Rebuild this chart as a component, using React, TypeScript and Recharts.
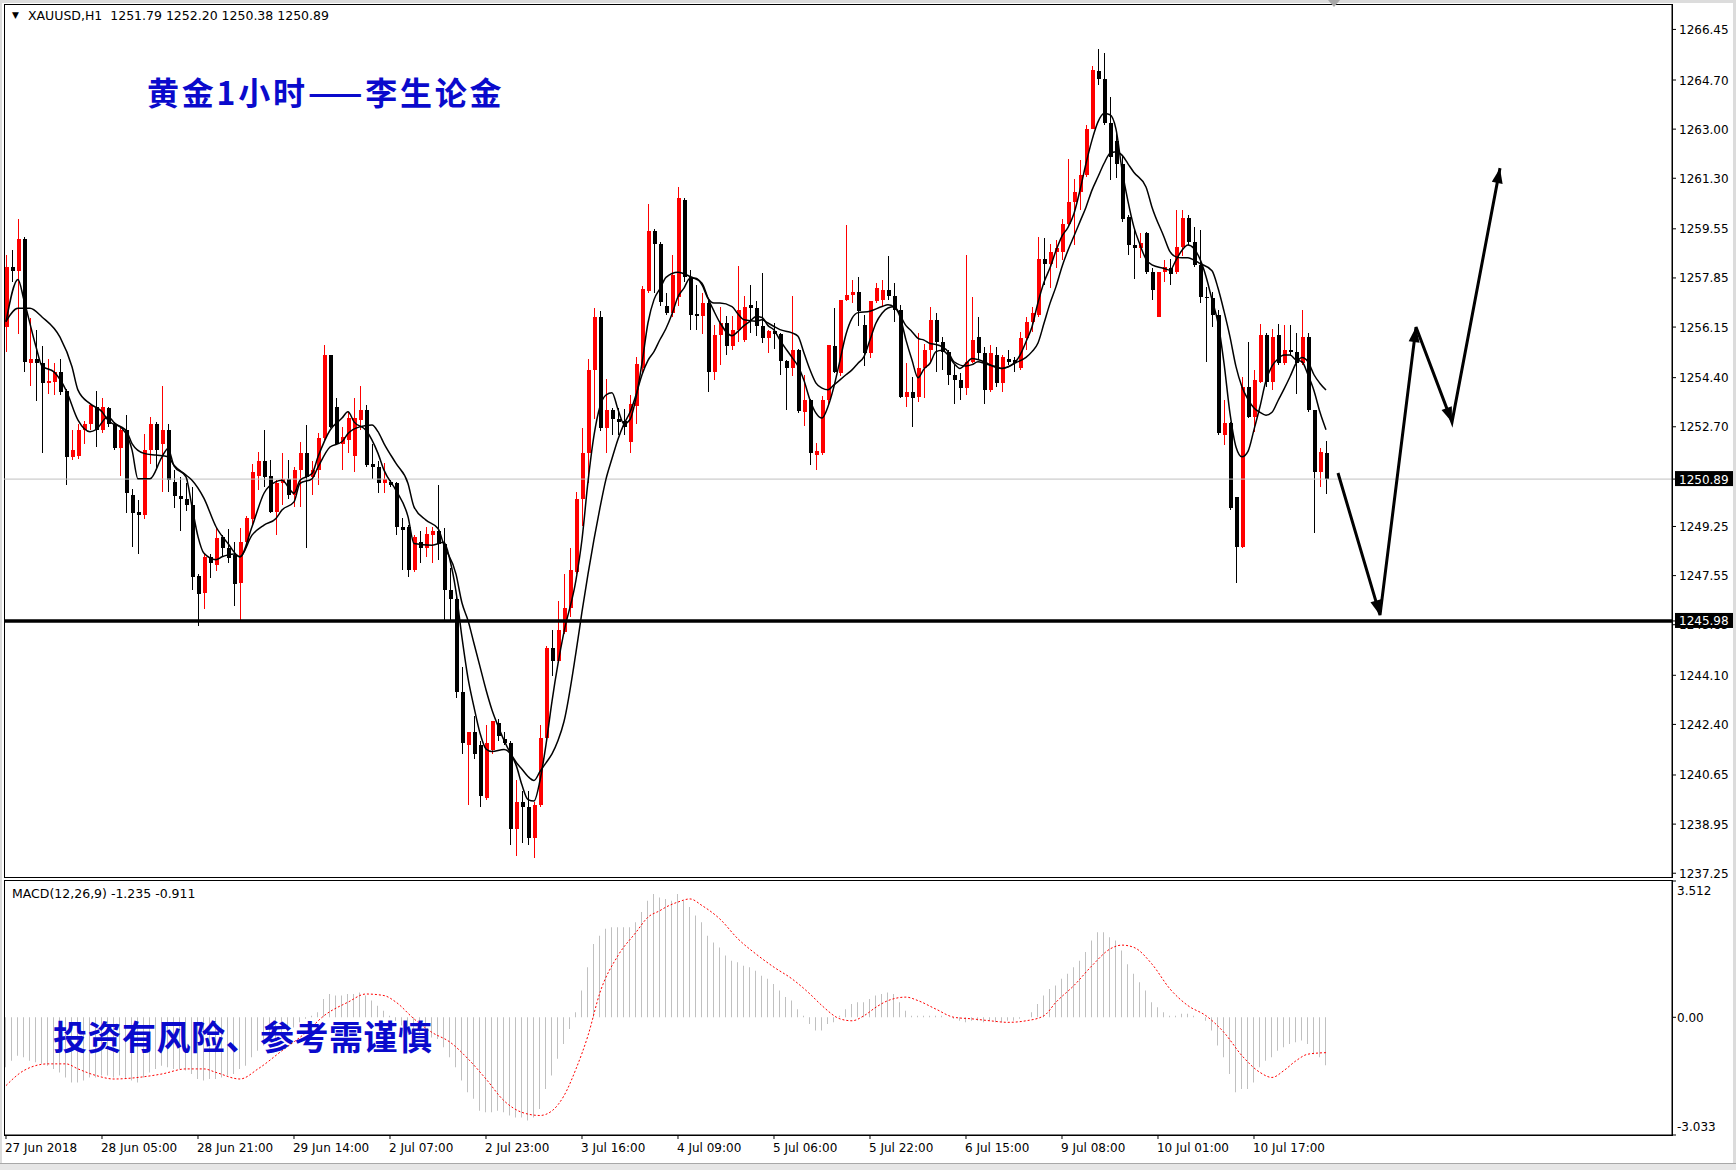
import React from "react";
import { ComposedChart, Bar, Line, XAxis, YAxis, ReferenceLine } from "recharts";

if (typeof document !== "undefined") document.body.style.margin = "0";

const FONT = '"DejaVu Sans", Verdana, sans-serif';
const CJK = '"Noto Sans CJK SC", "Noto Sans", sans-serif';

// XAUUSD H1 candles, bar 0 = 27 Jun 13:00
const opens = [
  1256.16, 1258.24, 1258.1, 1259.2, 1254.9, 1255.05, 1254.9, 1254.2, 1254.25, 1254.6,
  1253.95, 1251.65, 1251.7, 1252.6, 1252.8, 1253.4, 1252.6, 1253.35, 1252.8, 1251.95,
  1252.6, 1250.35, 1249.75, 1249.65, 1251.9, 1252.8, 1252.1, 1252.6, 1250.8, 1250.3,
  1250.2, 1250.0, 1247.55, 1246.95, 1248.2, 1247.9, 1248.9, 1248.5, 1248.25, 1247.3,
  1248.7, 1249.5, 1251.0, 1251.5, 1251.0, 1249.76, 1250.74, 1250.9, 1250.34, 1251.2,
  1251.78, 1250.97, 1251.2, 1252.3, 1255.18, 1253.4, 1252.12, 1252.24, 1251.7, 1252.93,
  1253.28, 1251.4, 1251.3, 1250.74, 1250.8, 1250.74, 1249.24, 1249.24, 1247.74, 1248.7,
  1248.5, 1248.95, 1249.1, 1248.66, 1247.05, 1246.75, 1243.53, 1241.7, 1242.15, 1241.7,
  1239.85, 1241.53, 1242.45, 1241.9, 1241.76, 1238.77, 1239.7, 1239.54, 1238.47, 1239.62,
  1241.92, 1245.06, 1244.6, 1245.6, 1246.44, 1247.67, 1250.2, 1251.8, 1254.65, 1256.49,
  1252.65, 1253.27, 1252.96, 1252.9, 1252.19, 1253.42, 1254.72, 1257.4, 1259.48, 1259.02,
  1256.87, 1256.64, 1257.18, 1260.56, 1257.9, 1256.6, 1256.52, 1256.98, 1254.6, 1255.88,
  1256.29, 1255.5, 1256.06, 1255.7, 1256.92, 1256.8, 1256.17, 1255.77, 1256.0, 1255.9,
  1254.96, 1254.73, 1255.37, 1253.2, 1253.63, 1251.73, 1251.79, 1253.63, 1255.5, 1254.56,
  1257.1, 1257.27, 1257.38, 1256.23, 1255.25, 1257.04, 1257.1, 1257.44, 1257.21, 1256.74,
  1253.74, 1253.9, 1253.74, 1254.72, 1255.35, 1256.39, 1255.64, 1255.29, 1254.49, 1254.32,
  1254.03, 1254.95, 1255.8, 1255.24, 1253.97, 1255.18, 1254.2, 1255.06, 1255.0, 1254.72,
  1255.76, 1256.33, 1256.56, 1258.52, 1258.35, 1258.75, 1258.75, 1259.73, 1260.48, 1260.83,
  1261.4, 1263.0, 1265.0, 1264.75, 1263.2, 1262.6, 1261.8, 1259.97, 1259.0, 1258.9,
  1259.39, 1258.06, 1256.5, 1258.06, 1258.2, 1258.06, 1258.93, 1259.91, 1259.1, 1258.3,
  1257.2, 1257.14, 1256.56, 1252.41, 1252.82, 1250.28, 1248.55, 1254.08, 1253.05, 1254.26,
  1255.87, 1254.26, 1255.87, 1254.89, 1255.35, 1255.3, 1254.89, 1255.81, 1253.28, 1251.14,
  1251.79,
];
const highs = [
  1258.64, 1258.8, 1259.9, 1259.25, 1256.45, 1256.05, 1255.5, 1255.05, 1254.9, 1255.05,
  1254.0, 1252.6, 1252.8, 1252.9, 1253.5, 1253.95, 1253.7, 1253.4, 1252.85, 1252.65,
  1253.1, 1250.55, 1250.15, 1252.45, 1253.05, 1252.85, 1254.1, 1252.8, 1251.2, 1250.95,
  1250.75, 1250.6, 1247.6, 1248.3, 1248.3, 1249.2, 1248.95, 1249.15, 1248.7, 1249.2,
  1249.6, 1251.4, 1251.84, 1252.6, 1251.55, 1250.86, 1251.8, 1251.55, 1251.3, 1252.18,
  1252.76, 1251.5, 1252.47, 1255.53, 1255.2, 1253.68, 1252.7, 1253.2, 1253.68, 1254.1,
  1253.45, 1252.12, 1251.5, 1251.43, 1250.85, 1250.8, 1249.53, 1249.3, 1248.95, 1249.1,
  1249.24, 1249.24, 1250.68, 1249.18, 1247.8, 1246.9, 1244.37, 1242.15, 1242.7, 1241.84,
  1242.38, 1242.53, 1242.6, 1242.15, 1241.84, 1240.46, 1240.08, 1240.08, 1239.7, 1242.38,
  1245.1, 1245.67, 1246.67, 1247.6, 1248.5, 1250.43, 1252.65, 1255.03, 1256.8, 1256.72,
  1254.34, 1253.34, 1253.34, 1253.3, 1253.8, 1255.1, 1257.56, 1260.4, 1259.56, 1259.1,
  1257.33, 1258.63, 1261.0, 1260.6, 1258.13, 1257.6, 1257.33, 1257.1, 1256.23, 1256.86,
  1256.52, 1256.52, 1258.25, 1257.21, 1257.6, 1257.04, 1258.02, 1256.06, 1256.3, 1255.95,
  1255.02, 1257.21, 1255.4, 1254.5, 1253.65, 1252.14, 1253.75, 1255.54, 1256.8, 1257.1,
  1259.69, 1257.78, 1257.9, 1256.58, 1257.04, 1257.67, 1257.78, 1258.6, 1257.66, 1256.91,
  1254.89, 1254.43, 1255.93, 1255.58, 1256.85, 1256.62, 1255.81, 1255.35, 1254.83, 1254.55,
  1258.64, 1257.2, 1256.5, 1255.47, 1255.52, 1255.47, 1255.18, 1255.35, 1255.12, 1255.99,
  1256.5, 1256.85, 1259.27, 1259.22, 1259.04, 1259.16, 1259.9, 1261.98, 1261.29, 1261.93,
  1263.14, 1265.2, 1265.79, 1265.62, 1264.1, 1262.97, 1262.1, 1260.02, 1259.5, 1259.39,
  1259.45, 1258.18, 1258.06, 1258.47, 1258.5, 1260.2, 1260.2, 1260.02, 1259.62, 1259.5,
  1257.55, 1257.37, 1256.74, 1253.62, 1252.87, 1250.28, 1254.43, 1255.64, 1254.66, 1256.27,
  1255.93, 1256.1, 1256.27, 1256.21, 1256.21, 1255.93, 1256.74, 1255.93, 1253.28, 1251.95,
  1252.2,
];
const lows = [
  1255.3, 1257.7, 1255.9, 1254.6, 1254.1, 1253.6, 1251.8, 1253.85, 1253.8, 1253.8,
  1250.68, 1251.55, 1251.6, 1252.1, 1252.6, 1252.0, 1252.5, 1252.7, 1251.9, 1251.0,
  1249.7, 1248.55, 1248.3, 1249.5, 1251.4, 1251.2, 1250.45, 1250.45, 1249.9, 1249.1,
  1249.8, 1247.05, 1245.8, 1246.4, 1247.45, 1247.7, 1248.2, 1248.0, 1246.5, 1245.95,
  1248.5, 1249.3, 1250.5, 1250.6, 1249.7, 1248.95, 1250.0, 1250.2, 1249.93, 1249.93,
  1248.5, 1250.34, 1250.7, 1252.24, 1252.65, 1252.07, 1251.2, 1251.78, 1251.14, 1252.58,
  1251.32, 1250.9, 1250.4, 1250.4, 1250.6, 1248.95, 1247.74, 1247.5, 1247.68, 1247.97,
  1248.2, 1247.97, 1248.1, 1246.0, 1246.0, 1243.3, 1241.38, 1239.6, 1241.2, 1239.54,
  1239.8, 1241.38, 1241.84, 1241.7, 1238.24, 1237.85, 1238.3, 1238.24, 1237.78, 1239.54,
  1241.84, 1244.07, 1244.53, 1245.52, 1246.13, 1247.6, 1249.28, 1250.74, 1252.96, 1252.57,
  1251.8, 1252.42, 1252.42, 1252.4, 1251.8, 1252.8, 1254.57, 1257.33, 1257.33, 1256.87,
  1256.56, 1256.5, 1256.87, 1257.7, 1256.06, 1256.06, 1255.9, 1253.92, 1254.33, 1254.85,
  1255.2, 1255.36, 1255.65, 1255.65, 1255.94, 1255.83, 1255.6, 1255.25, 1255.4, 1254.5,
  1253.29, 1254.44, 1253.17, 1252.71, 1251.39, 1251.21, 1251.73, 1253.5, 1254.56, 1254.44,
  1257.04, 1256.98, 1256.17, 1254.79, 1255.07, 1256.98, 1256.86, 1257.1, 1256.33, 1253.68,
  1253.39, 1252.7, 1253.56, 1253.68, 1254.89, 1254.6, 1254.66, 1254.14, 1253.5, 1253.62,
  1253.8, 1254.89, 1255.06, 1253.5, 1253.91, 1254.08, 1253.91, 1254.83, 1254.6, 1254.66,
  1255.35, 1255.99, 1256.5, 1257.6, 1257.5, 1258.18, 1258.46, 1259.62, 1258.98, 1260.2,
  1261.35, 1263.0, 1264.53, 1263.14, 1261.24, 1261.3, 1259.8, 1258.64, 1257.83, 1258.53,
  1258.0, 1257.08, 1256.5, 1257.72, 1257.6, 1258.0, 1258.6, 1258.99, 1258.24, 1256.97,
  1254.95, 1256.16, 1252.4, 1252.07, 1249.82, 1247.28, 1248.49, 1252.99, 1252.53, 1254.2,
  1254.09, 1253.97, 1254.83, 1254.83, 1255.18, 1253.85, 1254.83, 1253.22, 1249.01, 1250.63,
  1250.38,
];
const closes = [
  1258.24, 1258.1, 1259.2, 1254.95, 1255.05, 1254.9, 1254.2, 1254.3, 1254.6, 1253.9,
  1251.65, 1251.9, 1252.6, 1252.8, 1253.45, 1252.6, 1253.4, 1252.8, 1251.95, 1252.6,
  1250.4, 1249.7, 1249.65, 1251.9, 1252.8, 1251.9, 1252.6, 1250.85, 1250.3, 1250.2,
  1250.0, 1247.5, 1246.9, 1248.2, 1248.0, 1248.85, 1248.5, 1248.15, 1247.25, 1248.7,
  1249.53, 1251.15, 1251.5, 1250.97, 1249.76, 1250.74, 1250.9, 1250.34, 1251.2, 1251.78,
  1250.97, 1251.2, 1252.3, 1255.18, 1252.7, 1252.12, 1252.35, 1252.99, 1252.99, 1253.28,
  1251.37, 1251.3, 1250.74, 1250.9, 1250.7, 1249.24, 1249.12, 1247.74, 1248.9, 1248.5,
  1249.0, 1249.1, 1248.66, 1247.05, 1246.75, 1243.53, 1241.76, 1242.15, 1241.38, 1239.92,
  1241.76, 1242.53, 1242.0, 1241.76, 1238.77, 1239.7, 1239.54, 1238.47, 1239.62, 1241.92,
  1245.06, 1244.6, 1245.67, 1246.44, 1247.74, 1250.2, 1251.8, 1254.65, 1256.49, 1252.65,
  1253.27, 1252.96, 1252.88, 1252.7, 1253.5, 1254.88, 1257.48, 1259.48, 1259.02, 1257.03,
  1256.64, 1257.95, 1260.6, 1257.9, 1256.58, 1256.52, 1256.98, 1254.6, 1255.88, 1256.29,
  1255.48, 1256.06, 1256.75, 1256.86, 1256.8, 1256.17, 1255.77, 1256.0, 1255.9, 1254.96,
  1254.73, 1255.37, 1253.23, 1253.63, 1251.79, 1251.85, 1253.63, 1255.54, 1254.6, 1257.1,
  1257.27, 1257.38, 1256.69, 1255.25, 1257.04, 1257.5, 1257.44, 1257.21, 1256.75, 1253.74,
  1253.9, 1253.68, 1254.72, 1255.35, 1256.39, 1255.64, 1255.29, 1254.49, 1254.32, 1254.03,
  1254.95, 1255.7, 1255.24, 1253.97, 1255.24, 1254.2, 1255.12, 1254.95, 1254.89, 1255.76,
  1256.33, 1256.62, 1258.52, 1258.35, 1258.75, 1258.87, 1259.73, 1260.48, 1260.83, 1261.4,
  1263.0, 1265.04, 1264.75, 1263.2, 1262.04, 1261.8, 1259.9, 1258.99, 1258.9, 1259.05,
  1258.06, 1257.43, 1258.06, 1258.24, 1258.0, 1258.93, 1259.91, 1259.1, 1258.3, 1257.2,
  1257.14, 1256.56, 1252.47, 1252.82, 1249.88, 1248.55, 1254.08, 1253.05, 1254.31, 1255.87,
  1254.26, 1255.81, 1254.89, 1255.35, 1255.3, 1254.89, 1255.81, 1253.28, 1251.14, 1251.84,
  1250.89,
];

// moving averages: [bar, price]
const maFast: [number, number][] = [
  [0, 1256.33], [2, 1257.8], [3, 1257.08], [5, 1255.47], [6, 1254.8], [8, 1254.6], [10, 1253.97],
  [12, 1252.93], [14, 1252.53], [15, 1252.6], [17, 1253.05], [18, 1252.85], [20, 1252.47], [21, 1251.9],
  [22, 1250.9], [24, 1250.9], [26, 1251.66], [27, 1251.95], [28, 1251.35], [30, 1250.97], [31, 1249.93],
  [32, 1248.9], [33, 1248.32], [35, 1248.1], [36, 1248.2], [38, 1248.3], [39, 1248.2], [41, 1249.24],
  [43, 1250.4], [45, 1250.8], [46, 1250.85], [48, 1250.4], [49, 1250.85], [51, 1251.08], [52, 1251.66],
  [54, 1252.58], [56, 1253.0], [57, 1253.22], [58, 1252.87], [60, 1252.58], [62, 1251.78], [63, 1251.2],
  [65, 1250.5], [67, 1249.59], [68, 1248.66], [71, 1248.6], [73, 1248.7], [74, 1248.08], [75, 1247.0],
  [76, 1245.4], [77, 1244.0], [78, 1243.0], [79, 1242.1], [80, 1241.55], [81, 1241.46], [83, 1241.53],
  [85, 1241.0], [86, 1240.3], [87, 1239.8], [88, 1239.75], [89, 1240.46], [90, 1241.7], [91, 1243.2],
  [92, 1244.5], [93, 1245.6], [95, 1247.4], [96, 1248.8], [97, 1250.8], [98, 1252.4], [99, 1253.4],
  [100, 1253.8], [101, 1253.88], [102, 1253.3], [103, 1252.8], [104, 1252.95], [105, 1253.7], [106, 1254.9],
  [107, 1256.3], [108, 1257.1], [109, 1257.48], [110, 1257.87], [112, 1258.05], [114, 1257.9], [116, 1257.67],
  [117, 1257.15], [118, 1256.7], [119, 1256.3], [121, 1255.85], [122, 1256.0], [123, 1256.2], [124, 1256.35],
  [125, 1256.52], [126, 1256.48], [127, 1256.2], [128, 1256.05], [129, 1255.7], [131, 1255.1], [132, 1254.8],
  [133, 1254.3], [134, 1253.63], [135, 1253.17], [136, 1253.0], [137, 1253.4], [138, 1254.1], [139, 1255.0],
  [140, 1255.9], [141, 1256.45], [142, 1256.65], [144, 1256.7], [146, 1256.86], [147, 1256.92], [148, 1256.85],
  [149, 1256.51], [150, 1255.7], [151, 1255.01], [152, 1254.4], [153, 1254.7], [154, 1254.9], [155, 1255.3],
  [156, 1255.35], [157, 1255.18], [158, 1254.89], [159, 1254.72], [160, 1254.89], [161, 1255.06], [163, 1254.95],
  [165, 1254.75], [166, 1254.72], [168, 1254.89], [169, 1255.18], [170, 1255.64], [171, 1256.16], [172, 1257.0],
  [173, 1257.7], [174, 1258.2], [175, 1258.8], [176, 1259.3], [177, 1259.6], [178, 1260.08], [179, 1260.89],
  [180, 1261.81], [181, 1262.62], [182, 1263.25], [183, 1263.54], [184, 1263.5], [185, 1263.0], [186, 1261.6],
  [187, 1260.5], [188, 1259.6], [189, 1259.0], [190, 1258.5], [191, 1258.3], [193, 1258.18], [194, 1258.12],
  [195, 1258.47], [196, 1258.81], [197, 1258.99], [198, 1258.87], [199, 1258.5], [200, 1257.9], [201, 1257.1],
  [202, 1256.3], [203, 1254.9], [204, 1253.16], [205, 1252.0], [206, 1251.66], [207, 1251.85], [208, 1252.6],
  [209, 1253.4], [210, 1254.3], [211, 1254.8], [212, 1255.05], [213, 1255.18], [214, 1255.18], [215, 1255.01],
  [216, 1254.95], [217, 1254.5], [218, 1253.95], [219, 1253.2], [220, 1252.6],
];
const maSlow: [number, number][] = [
  [0, 1256.35], [2, 1256.8], [4, 1256.8], [6, 1256.5], [9, 1255.8], [11, 1254.78], [12, 1253.97],
  [14, 1253.5], [16, 1253.22], [17, 1252.93], [20, 1252.58], [21, 1252.12], [23, 1251.78], [25, 1251.72],
  [27, 1251.66], [28, 1251.37], [30, 1251.03], [31, 1250.85], [33, 1250.22], [35, 1249.24], [37, 1248.66],
  [39, 1248.2], [41, 1248.95], [43, 1249.3], [45, 1249.53], [46, 1249.82], [48, 1250.1], [49, 1250.74],
  [51, 1250.9], [52, 1251.3], [54, 1252.0], [56, 1252.18], [57, 1252.47], [59, 1252.7], [61, 1252.76],
  [62, 1252.53], [63, 1252.12], [65, 1251.43], [67, 1250.74], [68, 1249.93], [70, 1249.47], [72, 1249.18],
  [73, 1248.6], [75, 1247.6], [76, 1246.6], [77, 1246.0], [78, 1245.2], [79, 1244.4], [80, 1243.6],
  [81, 1242.9], [82, 1242.35], [83, 1241.85], [85, 1241.1], [86, 1240.85], [87, 1240.6], [88, 1240.46],
  [89, 1240.77], [90, 1241.07], [91, 1241.38], [92, 1241.84], [93, 1242.5], [95, 1244.9], [96, 1246.3],
  [97, 1247.6], [98, 1248.8], [99, 1249.9], [100, 1250.89], [101, 1251.6], [102, 1252.27], [103, 1252.8],
  [104, 1253.2], [105, 1253.8], [106, 1254.5], [107, 1255.0], [108, 1255.3], [109, 1255.72], [110, 1256.1],
  [111, 1256.6], [112, 1257.2], [113, 1257.5], [114, 1257.84], [115, 1257.84], [116, 1257.61], [117, 1257.15],
  [118, 1256.98], [119, 1256.98], [121, 1256.86], [122, 1256.6], [123, 1256.4], [125, 1256.35], [126, 1256.4],
  [127, 1256.29], [128, 1256.17], [129, 1256.06], [131, 1255.95], [132, 1255.83], [133, 1255.25], [134, 1254.67],
  [135, 1254.21], [136, 1254.04], [137, 1253.98], [138, 1254.15], [140, 1254.5], [141, 1254.67], [142, 1254.9],
  [143, 1255.13], [144, 1255.71], [145, 1256.29], [146, 1256.63], [147, 1256.81], [148, 1256.85], [150, 1256.2],
  [151, 1255.99], [152, 1255.76], [153, 1255.7], [154, 1255.58], [155, 1255.55], [156, 1255.47], [157, 1255.3],
  [158, 1254.95], [160, 1254.8], [161, 1254.85], [162, 1254.95], [163, 1254.9], [164, 1254.83], [165, 1254.78],
  [166, 1254.72], [167, 1254.78], [168, 1254.89], [170, 1255.1], [171, 1255.3], [172, 1255.6], [173, 1256.28],
  [174, 1256.97], [175, 1257.55], [176, 1258.24], [177, 1258.81], [178, 1259.3], [179, 1259.8], [180, 1260.3],
  [181, 1260.89], [182, 1261.35], [183, 1261.81], [184, 1262.16], [185, 1262.22], [186, 1262.1], [187, 1261.8],
  [188, 1261.5], [190, 1261.0], [191, 1260.3], [193, 1259.27], [194, 1258.76], [195, 1258.58], [196, 1258.55],
  [197, 1258.55], [198, 1258.47], [199, 1258.35], [201, 1258.1], [202, 1257.5], [203, 1256.7], [204, 1255.81],
  [205, 1254.78], [206, 1254.08], [207, 1253.65], [208, 1253.35], [209, 1253.2], [210, 1253.1], [211, 1253.2],
  [212, 1253.6], [213, 1254.0], [214, 1254.43], [215, 1254.89], [216, 1255.1], [217, 1254.95], [218, 1254.5],
  [219, 1254.2], [220, 1253.97],
];

// MACD(12,26,9) main values, one per bar (drawn as histogram)
const macdMain = [
  -1.29, -1.12, -0.99, -1.03, -1.12, -1.16, -1.2, -1.25, -1.33, -1.42,
  -1.55, -1.68, -1.68, -1.63, -1.55, -1.55, -1.5, -1.5, -1.55, -1.5,
  -1.59, -1.63, -1.68, -1.55, -1.42, -1.33, -1.25, -1.29, -1.33, -1.33,
  -1.37, -1.46, -1.59, -1.63, -1.59, -1.59, -1.55, -1.5, -1.46, -1.33,
  -1.25, -1.03, -0.86, -0.73, -0.64, -0.56, -0.47, -0.39, -0.26, -0.13,
  -0.04, 0.04, 0.13, 0.47, 0.6, 0.56, 0.56, 0.6, 0.6, 0.64,
  0.56, 0.43, 0.3, 0.17, 0.04, -0.09, -0.21, -0.39, -0.39, -0.47,
  -0.52, -0.52, -0.56, -0.77, -1.03, -1.29, -1.63, -1.93, -2.1, -2.41,
  -2.45, -2.45, -2.41, -2.45, -2.53, -2.58, -2.58, -2.66, -2.58, -2.36,
  -1.85, -1.5, -1.07, -0.69, -0.3, 0.13, 0.69, 1.29, 1.89, 2.1,
  2.28, 2.32, 2.32, 2.32, 2.32, 2.45, 2.71, 3.0, 3.18, 3.09,
  3.05, 3.0, 3.18, 3.0, 2.84, 2.62, 2.45, 2.1, 1.93, 1.8,
  1.59, 1.46, 1.42, 1.33, 1.29, 1.2, 1.07, 0.99, 0.86, 0.69,
  0.52, 0.43, 0.21, 0.04, -0.17, -0.34, -0.34, -0.17, -0.13, 0.04,
  0.21, 0.34, 0.39, 0.39, 0.47, 0.56, 0.6, 0.64, 0.6, 0.39,
  0.17, 0.04, 0.04, 0.04, 0.04, 0.04, 0.04, 0.0, -0.04, -0.09,
  -0.13, -0.09, -0.09, -0.13, -0.09, -0.13, -0.13, -0.09, -0.09, -0.04,
  0.0, 0.13, 0.34, 0.56, 0.73, 0.82, 0.99, 1.12, 1.29, 1.46,
  1.68, 1.98, 2.19, 2.19, 2.06, 1.98, 1.72, 1.37, 1.12, 0.9,
  0.69, 0.39, 0.26, 0.13, 0.04, 0.04, 0.09, 0.09, 0.04, 0.0,
  -0.09, -0.34, -0.73, -1.03, -1.46, -1.93, -1.85, -1.85, -1.68, -1.29,
  -1.12, -1.03, -0.86, -0.77, -0.69, -0.64, -0.6, -0.69, -0.95, -1.03,
  -1.235,
];
const macdSignal: [number, number][] = [
  [0, -1.76], [3, -1.37], [7, -1.2], [10, -1.2], [12, -1.33], [15, -1.5], [18, -1.59], [22, -1.55],
  [26, -1.46], [30, -1.33], [33, -1.33], [35, -1.42], [39, -1.59], [42, -1.33], [46, -0.86], [50, -0.39],
  [53, 0.04], [57, 0.39], [60, 0.6], [63, 0.56], [65, 0.39], [68, -0.04], [71, -0.39], [74, -0.64],
  [77, -1.07], [80, -1.59], [83, -2.15], [86, -2.45], [89, -2.53], [91, -2.41], [93, -2.02], [95, -1.33],
  [97, -0.47], [99, 0.64], [102, 1.59], [105, 2.19], [107, 2.58], [109, 2.75], [110, 2.84], [112, 2.97],
  [114, 3.05], [116, 2.88], [119, 2.53], [122, 2.02], [125, 1.63], [128, 1.29], [131, 0.99], [134, 0.6],
  [136, 0.3], [139, -0.04], [141, -0.09], [143, 0.04], [145, 0.26], [147, 0.43], [150, 0.52], [152, 0.43],
  [155, 0.21], [158, 0.0], [161, -0.04], [164, -0.09], [167, -0.13], [170, -0.09], [173, 0.04], [175, 0.39],
  [178, 0.82], [181, 1.33], [184, 1.76], [186, 1.86], [188, 1.8], [191, 1.37], [194, 0.73], [197, 0.3],
  [200, 0.04], [203, -0.39], [206, -0.99], [209, -1.42], [211, -1.55], [213, -1.37], [215, -1.12], [217, -0.95],
  [220, -0.911],
];

// hand-drawn projection arrow: [bar, price]
const projection: [number, number][] = [
  [222, 1251.1], [229, 1246.18], [235, 1256.15], [241, 1252.86], [249, 1261.65],
];

const lastPrice = 1250.89;
const supportPrice = 1245.98;
const priceTicks = [
  1266.45, 1264.7, 1263.0, 1261.3, 1259.55, 1257.85, 1256.15, 1254.4, 1252.7,
  1249.25, 1247.55, 1245.85, 1244.1, 1242.4, 1240.65, 1238.95, 1237.25,
  lastPrice, supportPrice,
];
const macdTicks = [3.512, 0, -3.033];
const dateTicks = [0, 16, 32, 48, 64, 80, 96, 112, 128, 144, 160, 176, 192, 208];
const dateLabels = [
  "27 Jun 2018", "28 Jun 05:00", "28 Jun 21:00", "29 Jun 14:00", "2 Jul 07:00",
  "2 Jul 23:00", "3 Jul 16:00", "4 Jul 09:00", "5 Jul 06:00", "5 Jul 22:00",
  "6 Jul 15:00", "9 Jul 08:00", "10 Jul 01:00", "10 Jul 17:00",
];

const xDomain: [number, number] = [-0.333, 277.667];

const fastMap = new Map(maFast);
const slowMap = new Map(maSlow);
const projMap = new Map(projection);
const signalMap = new Map(macdSignal);

const priceRows: any[] = [];
for (let i = 0; i <= projection[projection.length - 1][0]; i++) {
  const row: any = {
    i,
    fast: fastMap.get(i) ?? null,
    slow: slowMap.get(i) ?? null,
    proj: projMap.get(i) ?? null,
  };
  if (i < opens.length) {
    row.o = opens[i];
    row.h = highs[i];
    row.l = lows[i];
    row.c = closes[i];
    row.range = [lows[i], highs[i]];
  }
  priceRows.push(row);
}

const macdRows = macdMain.map((v, i) => ({ i, macd: v, signal: signalMap.get(i) ?? null }));

const Candle = (props: any) => {
  const { x, y, width, height, payload } = props;
  if (!payload || payload.o == null || !Number.isFinite(y)) return null;
  const { o, h, l, c } = payload;
  const color = c >= o ? "#ff0000" : "#000000";
  const k = h > l ? height / (h - l) : 0;
  const mid = Math.round(x + width / 2);
  const yo = y + (h - o) * k;
  const yc = y + (h - c) * k;
  const top = Math.min(yo, yc);
  const bh = Math.max(1, Math.abs(yo - yc));
  return (
    <g shapeRendering="crispEdges">
      <rect x={mid} y={y} width={1} height={Math.max(1, height)} fill={color} />
      <rect x={mid - 1.5} y={top} width={4} height={bh} fill={color} />
    </g>
  );
};

const ArrowHead = (props: any) => {
  const { cx, cy, points, index } = props;
  const key = `arrow-${index}`;
  if (cx == null || cy == null || !Array.isArray(points)) return <g key={key} />;
  const valid = points.filter((p: any) => p && Number.isFinite(p.x) && Number.isFinite(p.y));
  const k = valid.findIndex((p: any) => p.x === cx && p.y === cy);
  if (k <= 0) return <g key={key} />;
  const prev = valid[k - 1];
  const dx = cx - prev.x;
  const dy = cy - prev.y;
  const len = Math.hypot(dx, dy) || 1;
  const ux = dx / len;
  const uy = dy / len;
  const L = 15;
  const hw = 5.5;
  const bx = cx - ux * L;
  const by = cy - uy * L;
  const pts = `${cx},${cy} ${bx - uy * hw},${by + ux * hw} ${bx + uy * hw},${by - ux * hw}`;
  return <polygon key={key} points={pts} fill="#000" />;
};

const PriceTick = (props: any) => {
  const { x, y, payload } = props;
  const v = payload.value;
  const boxed = v === lastPrice || v === supportPrice;
  return (
    <g>
      {boxed && <rect x={x - 4} y={y - 8} width={58} height={15} fill="#000" />}
      <text x={x} y={y} dy={4.5} fontSize={12} fontFamily={FONT} fill={boxed ? "#fff" : "#000"} textAnchor="start">
        {v.toFixed(2)}
      </text>
    </g>
  );
};

const MacdTick = (props: any) => {
  const { x, y, payload } = props;
  const v = payload.value;
  const label = v === 0 ? "0.00" : v.toFixed(3);
  const shift = v > 0 ? 9 : v < 0 ? -9 : 0;
  return (
    <text x={x} y={y + shift} dy={4.5} fontSize={12} fontFamily={FONT} fill="#000" textAnchor="start">
      {label}
    </text>
  );
};

const DateTick = (props: any) => {
  const { x, y, payload } = props;
  const k = dateTicks.indexOf(payload.value);
  return (
    <text x={x - 1} y={y} dy={11} fontSize={12} fontFamily={FONT} fill="#000" textAnchor="start">
      {k >= 0 ? dateLabels[k] : ""}
    </text>
  );
};

export default function App() {
  return (
    <div
      style={{
        position: "relative",
        width: 1736,
        height: 1170,
        background: "#fff",
        overflow: "hidden",
        fontFamily: FONT,
      }}
    >
      {/* window chrome */}
      <div style={{ position: "absolute", left: 0, top: 0, width: 1736, height: 3, background: "#dcdcdc" }} />
      <div style={{ position: "absolute", left: 0, top: 0, width: 2, height: 1170, background: "#dcdcdc" }} />
      <div style={{ position: "absolute", right: 0, top: 0, width: 3, height: 1170, background: "#dcdcdc" }} />
      <div style={{ position: "absolute", left: 0, top: 1163, width: 1736, height: 7, background: "#e6e6e6", borderTop: "1px solid #a8a8a8" }} />

      {/* panel frames */}
      <div style={{ position: "absolute", left: 4, top: 4, width: 1669, height: 874, border: "1px solid #000", boxSizing: "border-box" }} />
      <div style={{ position: "absolute", left: 4, top: 880, width: 1669, height: 256, border: "1px solid #000", boxSizing: "border-box" }} />

      <div style={{ position: "absolute", left: 0, top: 0 }}>
        <ComposedChart width={1736} height={884} data={priceRows} margin={{ top: 4, right: 0, bottom: 7, left: 4 }}>
          <XAxis dataKey="i" type="number" domain={xDomain} allowDataOverflow hide />
          <YAxis
            orientation="right"
            type="number"
            domain={[1237.12, 1267.33]}
            allowDataOverflow
            ticks={priceTicks}
            interval={0}
            width={64}
            tickSize={4}
            tickMargin={3}
            axisLine={{ stroke: "#000" }}
            tickLine={{ stroke: "#000" }}
            tick={<PriceTick />}
          />
          <ReferenceLine y={lastPrice} stroke="#c0c0c0" strokeWidth={1} />
          <Bar dataKey="range" barSize={4} shape={(p: any) => <Candle {...p} />} isAnimationActive={false} />
          <Line dataKey="slow" type="monotone" stroke="#000" strokeWidth={1.5} dot={false} connectNulls isAnimationActive={false} />
          <Line dataKey="fast" type="monotone" stroke="#000" strokeWidth={1.5} dot={false} connectNulls isAnimationActive={false} />
          <ReferenceLine y={supportPrice} stroke="#000" strokeWidth={3.5} />
          <Line dataKey="proj" type="linear" stroke="#000" strokeWidth={3} dot={ArrowHead} activeDot={false} connectNulls isAnimationActive={false} />
        </ComposedChart>
      </div>

      <div style={{ position: "absolute", left: 0, top: 870 }}>
        <ComposedChart width={1736} height={300} data={macdRows} margin={{ top: 11, right: 0, bottom: 5, left: 4 }}>
          <XAxis
            dataKey="i"
            type="number"
            domain={xDomain}
            allowDataOverflow
            ticks={dateTicks}
            interval={0}
            height={30}
            tickSize={4}
            tickMargin={2}
            axisLine={{ stroke: "#000" }}
            tickLine={{ stroke: "#000" }}
            tick={<DateTick />}
          />
          <YAxis
            orientation="right"
            type="number"
            domain={[-3.033, 3.512]}
            allowDataOverflow
            ticks={macdTicks}
            interval={0}
            width={64}
            tickSize={4}
            tickMargin={1}
            axisLine={{ stroke: "#000" }}
            tickLine={{ stroke: "#000" }}
            tick={<MacdTick />}
          />
          <Bar dataKey="macd" barSize={1} fill="#c0c0c0" isAnimationActive={false} />
          <Line dataKey="signal" type="monotone" stroke="#ff0000" strokeWidth={1} strokeDasharray="2 2" dot={false} connectNulls isAnimationActive={false} />
        </ComposedChart>
      </div>

      {/* header and annotations */}
      <div style={{ position: "absolute", left: 12, top: 9, fontSize: 9, lineHeight: "12px", color: "#000" }}>▼</div>
      <div style={{ position: "absolute", left: 28, top: 8, fontSize: 12.5, lineHeight: "16px", color: "#000", whiteSpace: "pre" }}>
        {"XAUUSD,H1  1251.79 1252.20 1250.38 1250.89"}
      </div>
      <div
        style={{
          position: "absolute",
          left: 1328,
          top: 0,
          width: 0,
          height: 0,
          borderLeft: "6px solid transparent",
          borderRight: "6px solid transparent",
          borderTop: "7px solid #a8a8a8",
        }}
      />
      <div
        style={{
          position: "absolute",
          left: 147,
          top: 73,
          fontFamily: CJK,
          fontWeight: 700,
          fontSize: 32,
          lineHeight: "36px",
          letterSpacing: 2.8,
          color: "#0a0acc",
          whiteSpace: "pre",
        }}
      >
        黄金1小时——李生论金
      </div>
      <div style={{ position: "absolute", left: 12, top: 886, fontSize: 12.5, lineHeight: "16px", color: "#000", whiteSpace: "pre" }}>
        {"MACD(12,26,9) -1.235 -0.911"}
      </div>
      <div
        style={{
          position: "absolute",
          left: 53,
          top: 1016,
          fontFamily: CJK,
          fontWeight: 700,
          fontSize: 34,
          lineHeight: "40px",
          letterSpacing: 0.5,
          color: "#0a0acc",
          whiteSpace: "pre",
        }}
      >
        投资有风险、参考需谨慎
      </div>
    </div>
  );
}
